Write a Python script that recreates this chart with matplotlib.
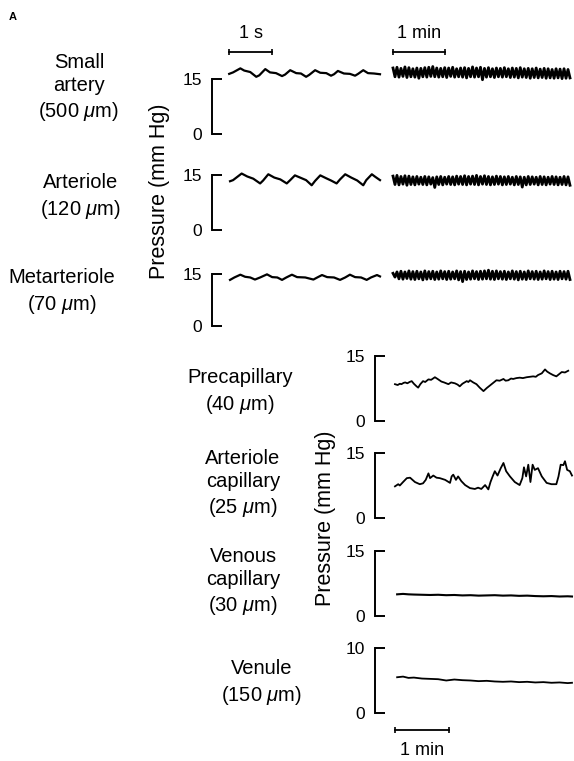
import numpy as np
import matplotlib
matplotlib.use("Agg")
import matplotlib.pyplot as plt

plt.rcParams['font.family'] = ['Liberation Sans', 'DejaVu Sans']
plt.rcParams['mathtext.fontset'] = 'custom'
plt.rcParams['mathtext.rm'] = 'Liberation Sans'
plt.rcParams['mathtext.it'] = 'Liberation Sans:italic'

W, H = 574, 761

# ---- vessel labels ----
top_labels = ['Small\nartery\n(500 $\\mu$m)', 'Arteriole\n(120 $\\mu$m)', 'Metarteriole\n(70 $\\mu$m)']
bot_labels = ['Precapillary\n(40 $\\mu$m)', 'Arteriole\ncapillary\n(25 $\\mu$m)',
              'Venous\ncapillary\n(30 $\\mu$m)', 'Venule\n(150 $\\mu$m)']
bot_ymax = [15, 15, 15, 10]

# ---- fast traces (time in s, pressure in mm Hg) ----
sa_t = [0.00, 0.09, 0.26, 0.35, 0.49, 0.63, 0.70, 0.84, 0.95, 1.09, 1.23, 1.30, 1.42, 1.56, 1.67, 1.79,
        1.86, 2.00, 2.12, 2.26, 2.37, 2.44, 2.53, 2.67, 2.81, 2.93, 3.00, 3.12, 3.23, 3.37, 3.51]
sa_p = [16.4, 16.8, 17.9, 17.3, 16.9, 15.6, 16.0, 17.7, 16.8, 16.6, 15.8, 16.2, 17.4, 16.6, 16.5, 15.6,
        16.1, 17.4, 16.7, 16.6, 15.9, 16.3, 17.2, 16.5, 16.4, 15.9, 16.4, 17.4, 16.6, 16.5, 16.3]

ar_t = [0.02, 0.09, 0.29, 0.42, 0.56, 0.72, 0.79, 0.91, 1.05, 1.19, 1.34, 1.42, 1.53, 1.67, 1.79,
        1.92, 2.00, 2.12, 2.26, 2.37, 2.50, 2.58, 2.70, 2.84, 2.98, 3.12, 3.19, 3.32, 3.40, 3.51]
ar_p = [13.3, 13.6, 15.4, 14.6, 14.0, 12.7, 13.5, 15.2, 14.3, 13.8, 12.7, 13.6, 14.9, 14.2, 13.6,
        12.2, 13.4, 14.9, 14.1, 13.5, 12.7, 13.8, 15.2, 14.3, 13.5, 12.2, 13.6, 15.2, 14.5, 13.6]

me_t = [0.02, 0.12, 0.26, 0.37, 0.49, 0.60, 0.72, 0.88, 1.00, 1.12, 1.23, 1.33, 1.46, 1.58, 1.77,
        1.96, 2.05, 2.16, 2.28, 2.44, 2.58, 2.70, 2.81, 2.93, 3.07, 3.20, 3.30, 3.44, 3.51]
me_p = [13.3, 14.0, 14.8, 14.2, 14.0, 13.4, 14.0, 14.9, 14.1, 14.0, 13.3, 14.0, 14.8, 14.1, 14.0,
        13.4, 14.0, 14.7, 14.1, 14.0, 13.3, 14.0, 14.8, 14.1, 14.0, 13.3, 14.0, 14.7, 14.3]

# ---- slow traces (1-min scale), sampled evenly over 3.4 min ----
sa_slow = [18.0, 15.6, 18.2, 15.5, 17.9, 15.7, 18.3, 15.4, 18.1, 15.6,
           17.8, 15.5, 18.0, 15.2, 17.9, 15.6, 18.1, 15.5, 18.2, 15.7,
           18.4, 15.6, 18.0, 15.5, 17.9, 15.6, 18.1, 15.4, 18.0, 15.7,
           18.2, 15.5, 17.8, 15.6, 18.0, 15.5, 18.1, 15.3, 17.9, 15.6,
           18.3, 15.5, 18.0, 15.6, 18.2, 14.8, 17.9, 15.5, 18.1, 15.6,
           17.8, 15.4, 18.0, 15.6, 17.9, 15.5, 18.1, 15.6, 17.8, 15.4,
           18.0, 15.5, 17.9, 15.3, 18.1, 15.5, 17.8, 15.4, 17.9, 15.2,
           17.8, 15.4, 18.0, 15.3, 17.7, 15.4, 17.9, 15.2, 17.8, 15.3,
           17.6, 15.2, 17.8, 15.3, 17.7, 15.1, 17.8, 15.2, 17.6, 15.3]
ar_slow = [14.7, 12.4, 14.9, 12.3, 14.6, 12.5, 14.8, 12.2, 14.7, 12.4,
           14.5, 12.3, 14.6, 12.5, 14.4, 12.4, 14.6, 12.3, 14.5, 12.5,
           14.3, 11.6, 14.5, 12.4, 14.6, 12.3, 14.4, 12.5, 14.6, 12.4,
           14.5, 12.3, 14.7, 12.5, 14.6, 12.4, 14.8, 12.3, 14.6, 12.5,
           14.7, 12.4, 14.9, 12.3, 14.6, 12.5, 14.8, 12.4, 14.6, 12.3,
           14.5, 12.4, 14.7, 12.5, 14.6, 12.3, 14.5, 12.4, 14.6, 12.5,
           14.4, 12.3, 14.6, 12.4, 14.5, 11.7, 14.4, 12.3, 14.6, 12.4,
           14.5, 12.5, 14.4, 12.3, 14.6, 12.4, 14.5, 12.3, 14.4, 12.5,
           14.6, 12.4, 14.5, 12.3, 14.4, 12.4, 14.6, 12.3, 14.5, 12.2]
me_slow = [15.2, 14.1, 15.6, 13.6, 15.8, 13.5, 15.6, 13.7, 15.9, 13.5,
           15.7, 13.4, 15.8, 13.6, 15.6, 13.3, 15.9, 13.5, 15.7, 13.6,
           15.8, 13.4, 15.6, 13.5, 15.9, 13.6, 15.7, 13.4, 15.8, 13.5,
           15.6, 13.6, 15.9, 13.3, 15.7, 12.8, 15.8, 13.4, 15.6, 13.5,
           15.9, 13.6, 15.7, 13.4, 15.8, 13.5, 15.9, 13.6, 16.1, 13.5,
           15.8, 13.4, 15.9, 13.6, 15.7, 13.5, 15.8, 13.4, 15.6, 13.6,
           15.9, 13.5, 15.7, 13.3, 15.8, 13.5, 15.6, 13.4, 15.9, 13.6,
           15.7, 13.5, 15.8, 13.4, 15.6, 13.5, 15.9, 13.6, 15.7, 13.4,
           15.8, 13.5, 15.6, 13.4, 15.8, 13.6, 15.7, 13.5, 15.8, 13.4]

# ---- microvessel traces (time in min, pressure in mm Hg) ----
pc_t = [0.00, 0.05, 0.09, 0.12, 0.16, 0.19, 0.23, 0.27, 0.31, 0.35, 0.40, 0.43, 0.47, 0.52, 0.56, 0.62,
        0.67, 0.74, 0.79, 0.86, 0.91, 0.95, 0.99, 1.04, 1.11, 1.16, 1.20, 1.25, 1.29, 1.33, 1.36, 1.39,
        1.45, 1.51, 1.57, 1.64, 1.70, 1.76, 1.82, 1.88, 1.94, 2.01, 2.05, 2.10, 2.15, 2.19, 2.25, 2.31,
        2.37, 2.44, 2.50, 2.56, 2.61, 2.65, 2.72, 2.78, 2.82, 2.87, 2.93, 2.99, 3.04, 3.09, 3.15, 3.21]
pc_p = [8.5, 8.3, 8.6, 8.5, 8.8, 8.9, 8.7, 9.0, 9.2, 8.6, 8.0, 7.7, 8.5, 9.2, 9.0, 9.6,
        9.5, 10.1, 9.7, 9.1, 8.9, 8.7, 8.5, 8.9, 8.7, 8.4, 8.0, 8.6, 8.9, 9.2, 9.0, 9.4,
        8.9, 8.5, 7.7, 6.9, 7.6, 8.2, 8.8, 9.4, 9.3, 9.7, 9.3, 9.4, 9.8, 9.7, 9.9, 10.0,
        9.9, 10.1, 10.2, 10.3, 10.2, 10.6, 11.0, 11.9, 11.4, 11.0, 10.6, 10.3, 10.8, 11.3, 11.2, 11.6]

ac_t = [0.00, 0.06, 0.09, 0.15, 0.22, 0.28, 0.37, 0.46, 0.52, 0.57, 0.62, 0.65, 0.71, 0.77, 0.83, 0.93,
        1.02, 1.05, 1.08, 1.13, 1.17, 1.23, 1.30, 1.39, 1.48, 1.54, 1.60, 1.67, 1.73, 1.77, 1.81, 1.85,
        1.90, 1.96, 2.01, 2.06, 2.13, 2.22, 2.31, 2.36, 2.39, 2.43, 2.47, 2.51, 2.55, 2.59, 2.65, 2.72,
        2.81, 2.90, 2.99, 3.03, 3.07, 3.12, 3.15, 3.19, 3.24, 3.28]
ac_p = [7.3, 7.8, 7.5, 8.3, 9.2, 9.3, 8.3, 7.8, 8.0, 8.8, 10.3, 9.2, 9.8, 9.3, 9.2, 8.8,
        8.1, 9.6, 10.0, 8.8, 9.6, 8.5, 7.6, 6.9, 6.7, 7.0, 6.7, 7.6, 6.6, 8.3, 9.6, 10.8,
        9.8, 11.5, 12.7, 10.8, 9.6, 8.3, 7.6, 9.2, 11.7, 9.6, 12.3, 8.3, 12.3, 11.1, 11.5, 9.6,
        8.1, 7.8, 7.8, 9.6, 12.3, 12.2, 13.1, 11.1, 10.8, 9.8]

vc_t = [0.04, 0.15, 0.25, 0.35, 0.50, 0.65, 0.80, 0.95, 1.10, 1.25, 1.40, 1.55,
        1.70, 1.85, 2.00, 2.15, 2.30, 2.45, 2.60, 2.75, 2.90, 3.05, 3.20, 3.28]
vc_p = [5.0, 5.1, 5.0, 4.95, 4.9, 4.85, 4.9, 4.8, 4.85, 4.75, 4.8, 4.7,
        4.75, 4.8, 4.7, 4.75, 4.65, 4.7, 4.6, 4.55, 4.6, 4.5, 4.55, 4.5]

vn_t = [0.04, 0.15, 0.25, 0.35, 0.50, 0.65, 0.80, 0.95, 1.10, 1.25, 1.40, 1.55,
        1.70, 1.85, 2.00, 2.15, 2.30, 2.45, 2.60, 2.75, 2.90, 3.05, 3.20, 3.28]
vn_p = [5.5, 5.6, 5.4, 5.45, 5.3, 5.25, 5.2, 5.0, 5.15, 5.05, 5.0, 4.9,
        4.95, 4.85, 4.8, 4.85, 4.75, 4.8, 4.7, 4.75, 4.65, 4.7, 4.6, 4.65]


def px_axes(fig, x0, x1, ytop, ybot):
    return fig.add_axes([x0 / W, 1 - ybot / H, (x1 - x0) / W, (ybot - ytop) / H])


def bracket(ax, ymax):
    for s in ['top', 'right', 'bottom']:
        ax.spines[s].set_visible(False)
    ax.spines['left'].set_bounds(0, ymax)
    ax.spines['left'].set_linewidth(1.4)
    ax.set_yticks([0, ymax])
    ax.set_xticks([])
    ax.tick_params(axis='y', direction='in', length=7, width=1.4, pad=7, labelsize=12.5)
    ax.patch.set_visible(False)


def blank(ax):
    ax.set_axis_off()


fig = plt.figure(figsize=(W / 100, H / 100), dpi=100)

top_rows = [(79, 134), (175, 230), (274, 326)]
fast = [(sa_t, sa_p), (ar_t, ar_p), (me_t, me_p)]
slow = [sa_slow, ar_slow, me_slow]
label_pos = [(79, 88), (81, 197), (62, 292)]

for i, (yt, yb) in enumerate(top_rows):
    ax = px_axes(fig, 212, 380, yt, yb)
    ax.set_xlim(-0.4, 3.51)
    ax.set_ylim(0, 15)
    bracket(ax, 15)
    ax.plot(fast[i][0], fast[i][1], color='black', lw=1.6, clip_on=False)

    ax2 = px_axes(fig, 393, 570, yt, yb)
    ax2.set_xlim(0, 3.4)
    ax2.set_ylim(0, 15)
    blank(ax2)
    ts = np.linspace(0, 3.4, len(slow[i]))
    ax2.plot(ts, slow[i], color='black', lw=2.0, clip_on=False)

    fig.text(label_pos[i][0] / W, 1 - label_pos[i][1] / H, top_labels[i], ha='center', va='center',
             ma='center', fontsize=14.5, linespacing=1.3)

    if i == 0:
        ax.plot([0, 1], [22.3, 22.3], color='black', lw=1.3, marker='|', ms=5, mew=1.2, clip_on=False)
        ax.text(0.5, 27.5, '1 s', ha='center', va='center', fontsize=13)
        ax2.plot([0, 1], [22.3, 22.3], color='black', lw=1.3, marker='|', ms=5, mew=1.2, clip_on=False)
        ax2.text(0.5, 27.5, '1 min', ha='center', va='center', fontsize=13)

bot_rows = [(356, 421), (453, 518), (551, 616), (648, 713)]
micro = [(pc_t, pc_p), (ac_t, ac_p), (vc_t, vc_p), (vn_t, vn_p)]
bot_label_pos = [(240, 392), (243, 484), (243, 582), (262, 683)]
bot_lw = [1.3, 1.3, 1.5, 1.3]

for i, (yt, yb) in enumerate(bot_rows):
    ax = px_axes(fig, 375, 572, yt, yb)
    ax.set_xlim(-0.37, 3.28)
    ax.set_ylim(0, bot_ymax[i])
    bracket(ax, bot_ymax[i])
    ax.plot(micro[i][0], micro[i][1], color='black', lw=bot_lw[i], clip_on=False)
    fig.text(bot_label_pos[i][0] / W, 1 - bot_label_pos[i][1] / H, bot_labels[i], ha='center',
             va='center', ma='center', fontsize=14.5, linespacing=1.3)
    if i == 3:
        ax.plot([0, 1], [-2.6, -2.6], color='black', lw=1.3, marker='|', ms=5, mew=1.2, clip_on=False)
        ax.text(0.5, -5.7, '1 min', ha='center', va='center', fontsize=13)

fig.text(160 / W, 1 - 191 / H, 'Pressure (mm Hg)', rotation=90, ha='center', va='center', fontsize=15.5)
fig.text(326 / W, 1 - 518 / H, 'Pressure (mm Hg)', rotation=90, ha='center', va='center', fontsize=15.5)
fig.text(13 / W, 1 - 17 / H, 'A', ha='center', va='center', fontsize=8, fontweight='bold')

fig.savefig('out.png', dpi=100)
